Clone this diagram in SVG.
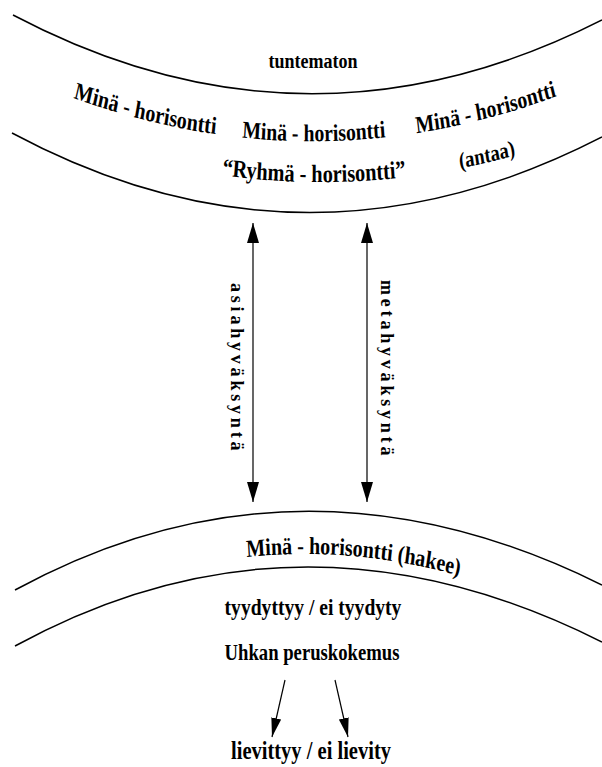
<svg xmlns="http://www.w3.org/2000/svg" xmlns:xlink="http://www.w3.org/1999/xlink" width="602" height="767" viewBox="0 0 602 767">
<style>
  .band { fill: none; stroke: #000; stroke-width: 1.5; }
  .con { fill: none; stroke: #000; stroke-width: 1.2; }
  text { font-family: "Liberation Serif", "Times New Roman", serif; font-weight: bold; fill: #000; }
  .lbl { font-size: 18px; letter-spacing: 3.8px; }
</style>
<defs>
  <marker id="ah" viewBox="0 0 20 12" refX="20" refY="6" markerWidth="20" markerHeight="12" markerUnits="userSpaceOnUse" orient="auto-start-reverse">
    <path d="M0,0 L20,6 L0,12 Z" fill="#000"/>
  </marker>
  <marker id="ah2" viewBox="0 0 19 10" refX="19" refY="5" markerWidth="19" markerHeight="10" markerUnits="userSpaceOnUse" orient="auto">
    <path d="M0,0 L19,5 L0,10 Z" fill="#000"/>
  </marker>
  <!-- text paths drawn in a space stretched by 1/0.82 in x; the texts are condensed back by scale(0.82,1) -->
  <path id="arcA" d="M14.6,73 Q374.4,207 734.1,78"/>
  <path id="arcB" d="M14.6,114 Q374.4,244 734.1,126"/>
  <path id="arcC" d="M18.3,633 Q365.9,475 734.1,633"/>
</defs>
<rect width="602" height="767" fill="#fff"/>

<g id="upper-band">
  <path class="band" d="M13,15 Q307,170 602,20"/>
  <path class="band" d="M12,133 Q305,290 602,137"/>
  <text transform="translate(313,68) scale(0.82,1)" font-size="22" text-anchor="middle">tuntematon</text>
  <text transform="scale(0.82,1)" font-size="24.4" text-anchor="middle"><textPath xlink:href="#arcA" href="#arcA" startOffset="22.8%">Minä - horisontti</textPath></text>
  <text transform="scale(0.82,1)" font-size="24.1" text-anchor="middle"><textPath xlink:href="#arcA" href="#arcA" startOffset="51.2%">Minä - horisontti</textPath></text>
  <text transform="scale(0.82,1)" font-size="24.1" text-anchor="middle"><textPath xlink:href="#arcA" href="#arcA" startOffset="80.2%">Minä - horisontti</textPath></text>
  <text transform="scale(0.82,1)" font-size="22.7" text-anchor="middle"><textPath xlink:href="#arcB" href="#arcB" startOffset="80.4%">(antaa)</textPath></text>
  <text transform="scale(0.82,1)" font-size="24.8" text-anchor="middle"><textPath xlink:href="#arcB" href="#arcB" startOffset="51.3%">“Ryhmä - horisontti”</textPath></text>
</g>

<g id="lower-band">
  <path class="band" d="M15,590 Q300,435 602,585"/>
  <path class="band" d="M15,646 Q300,490 602,642"/>
  <text transform="scale(0.82,1)" font-size="24.4" text-anchor="middle"><textPath xlink:href="#arcC" href="#arcC" startOffset="57.5%">Minä - horisontti (hakee)</textPath></text>
</g>

<g id="tyydyttyy">
  <text transform="translate(313,615) scale(0.82,1)" font-size="23.9" text-anchor="middle">tyydyttyy / ei tyydyty</text>
</g>
<g id="uhkan">
  <text transform="translate(312,660) scale(0.82,1)" font-size="22.8" text-anchor="middle">Uhkan peruskokemus</text>
</g>
<g id="lievittyy">
  <text transform="translate(311,759) scale(0.82,1)" font-size="25" text-anchor="middle">lievittyy / ei lievity</text>
</g>

<g id="connectors">
  <line class="con" x1="253" y1="223" x2="253" y2="502" marker-start="url(#ah)" marker-end="url(#ah)"/>
  <line class="con" x1="367" y1="223" x2="367" y2="502" marker-start="url(#ah)" marker-end="url(#ah)"/>
  <line class="con" x1="285" y1="680" x2="272" y2="737" marker-end="url(#ah2)"/>
  <line class="con" x1="335" y1="680" x2="348" y2="737" marker-end="url(#ah2)"/>
  <text class="lbl" transform="translate(231,283) rotate(90)">asiahyväksyntä</text>
  <text class="lbl" transform="translate(381,280) rotate(90)">metahyväksyntä</text>
</g>
</svg>
